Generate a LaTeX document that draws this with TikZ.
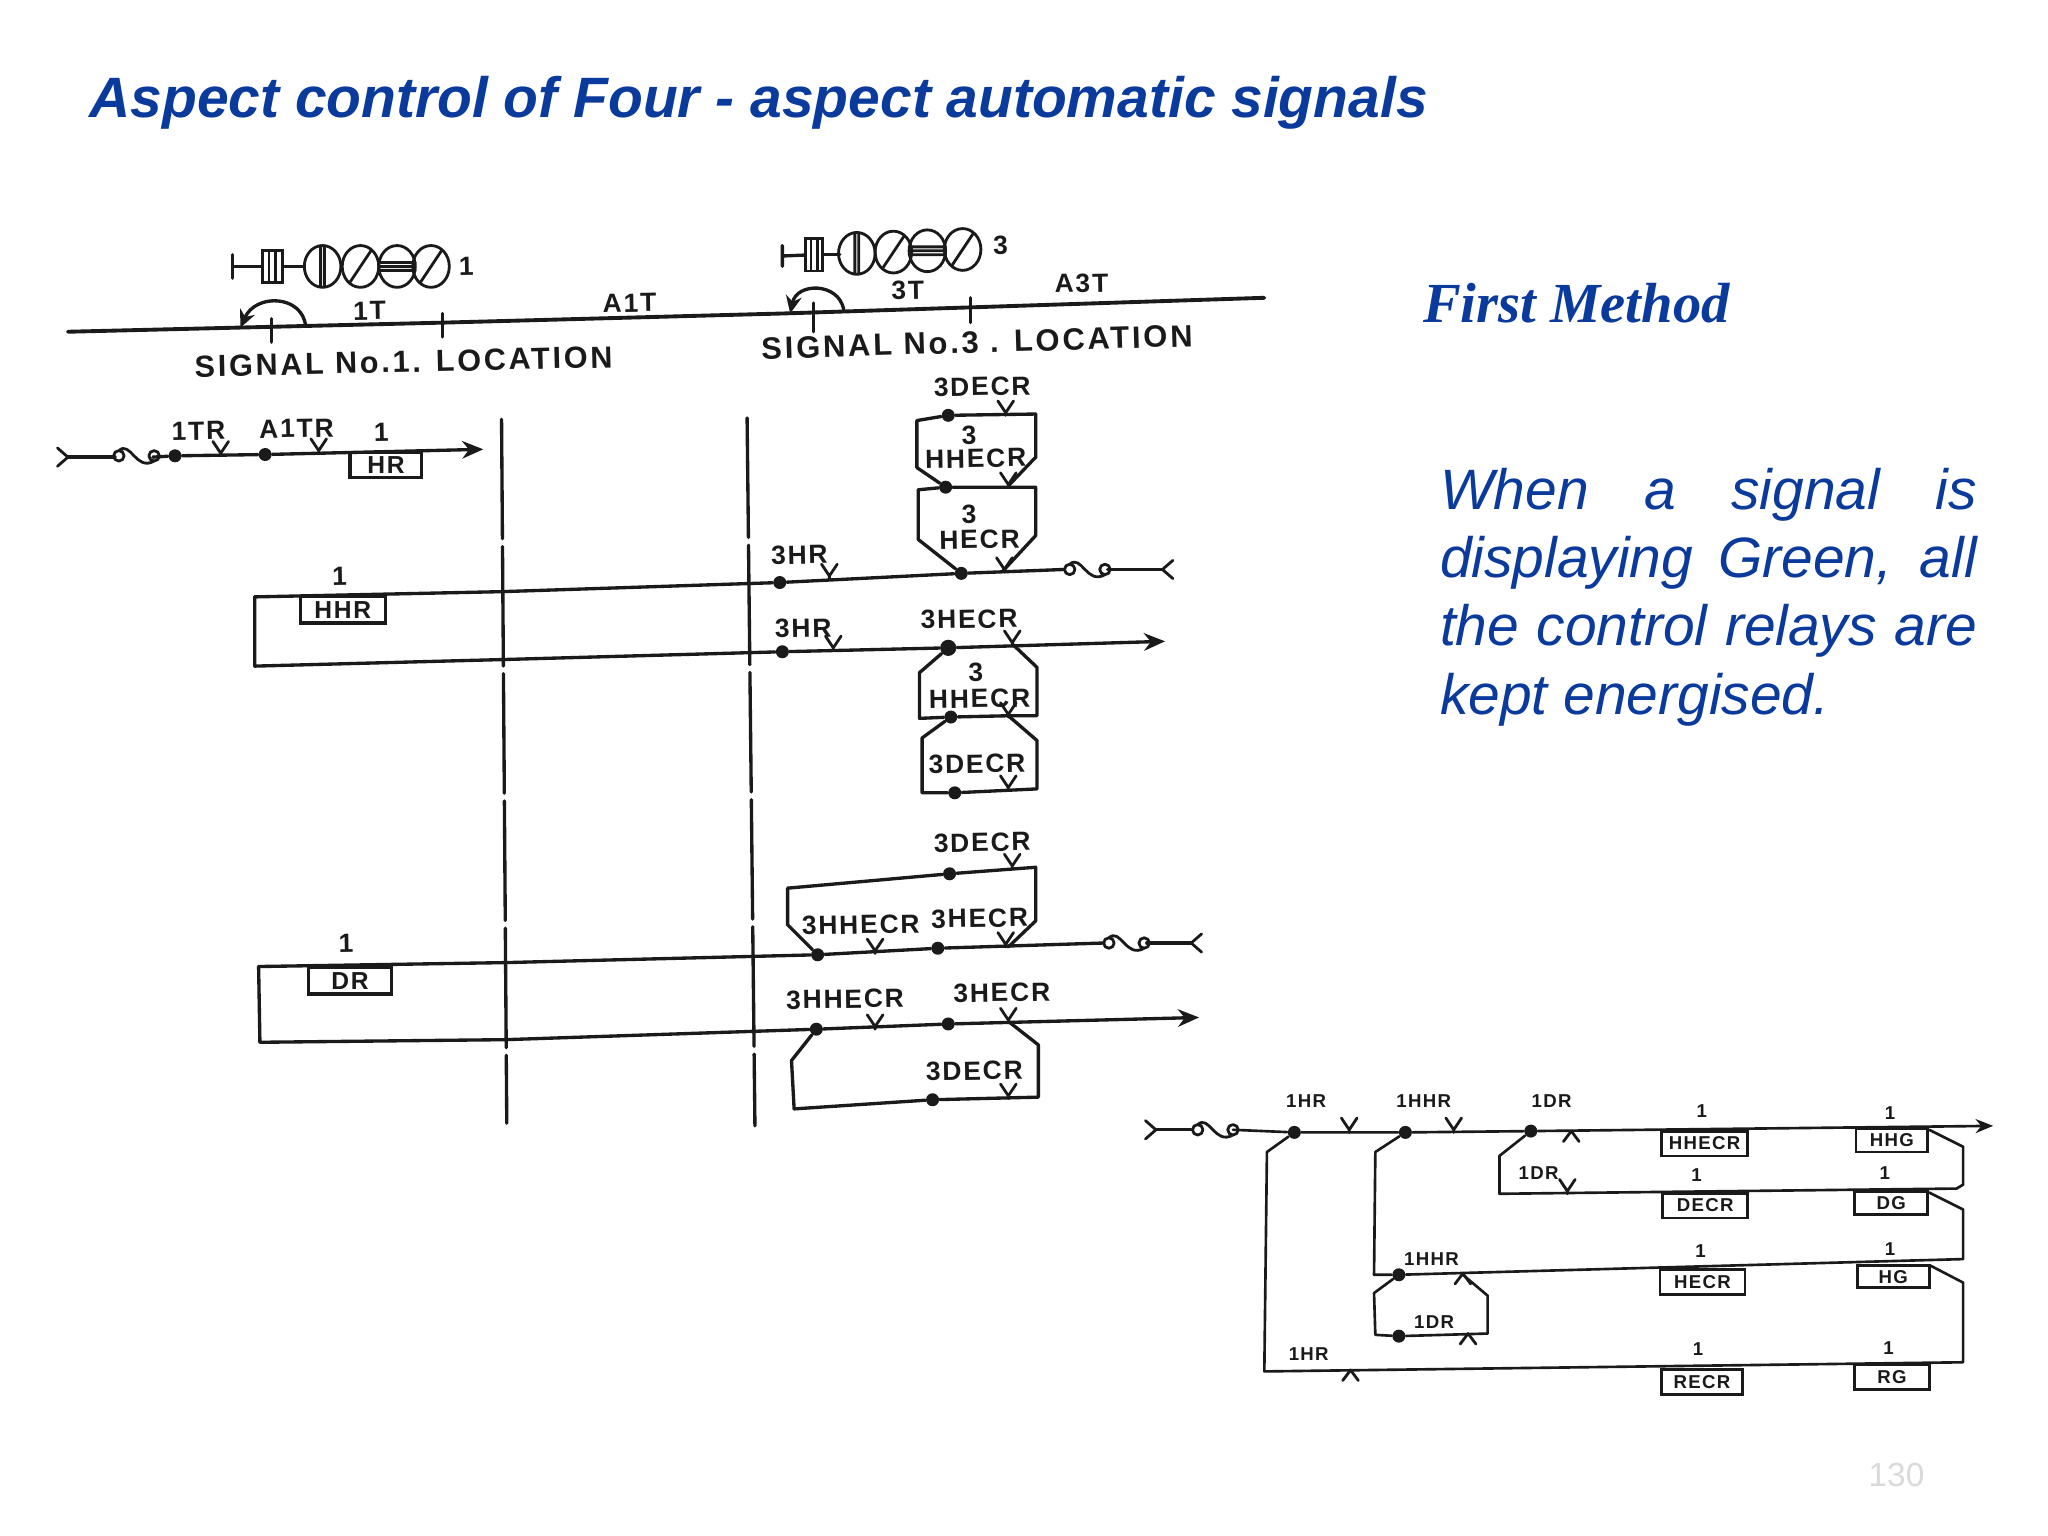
\documentclass[tikz,border=0pt]{standalone}
\usepackage{fontspec}
\usetikzlibrary{arrows.meta}
\setmainfont{Liberation Sans}
\newfontfamily\titlefont{Liberation Sans}
\newfontfamily\methodfont{Liberation Serif}
\newfontfamily\handfont[LetterSpace=7]{Liberation Sans}
\newfontfamily\handwide[LetterSpace=9]{Liberation Sans}
\definecolor{slideblue}{HTML}{0A3A9C}
\definecolor{ink}{HTML}{1A1A1A}
\definecolor{pagegrey}{HTML}{DADADA}
\def\uu{0.013061cm}
\tikzset{
  wire/.style={draw=ink,line width=0.95pt,line join=round,line cap=round},
  thinwire/.style={draw=ink,line width=0.75pt,line join=round,line cap=round},
  dot/.style={circle,fill=ink,inner sep=0pt,minimum size=4.6pt},
  smalldot/.style={circle,fill=ink,inner sep=0pt,minimum size=3.7pt},
  lab/.style={text=ink,inner sep=0pt,font=\handfont\bfseries\fontsize{7.5}{7.5}\selectfont,rotate=1},
  slab/.style={text=ink,inner sep=0pt,font=\handfont\bfseries\fontsize{5.3}{5.3}\selectfont},
  wlab/.style={text=ink,inner sep=0pt,font=\handwide\bfseries\fontsize{8.7}{8.7}\selectfont},
  relay/.style={draw=ink,line width=0.8pt,inner sep=0pt,text=ink,font=\handfont\bfseries\fontsize{5.3}{5.3}\selectfont},
  bigrelay/.style={relay,line width=0.9pt,font=\handfont\bfseries\fontsize{7}{7}\selectfont},
  arrowwire/.style={wire,-{Stealth[length=6pt,width=5pt]}},
  contactup/.pic={\draw[wire,line width=0.8pt] (-6,-10) -- (0,-1) -- (6,-10) (0,-1) -- (0,1);},
  contactdown/.pic={\draw[wire,line width=0.8pt] (-6,8) -- (0,0) -- (6,8);},
  fusepic/.pic={\draw[wire,line width=0.8pt] (0,0) circle (4) (27,0) circle (4)
     (0,-4) .. controls (9,-12) and (13,12) .. (27,4);},
  forkl/.pic={\draw[wire,line width=0.8pt] (-8,-7) -- (0,0) -- (-8,7);},
  forkr/.pic={\draw[wire,line width=0.8pt] (8,-7) -- (0,0) -- (8,7);},
  lampv/.pic={\draw[wire,line width=0.8pt] (0,0) ellipse (14 and 16) (-1.5,-16) -- (-1.5,16) (1.5,-16) -- (1.5,16);},
  lampd/.pic={\draw[wire,line width=0.8pt] (0,0) ellipse (14 and 16) (-8,12) -- (8,-12);},
  lamph/.pic={\draw[wire,line width=0.8pt] (0,0) ellipse (14 and 16) (-14,-3) -- (14,-3) (-14,0) -- (14,0) (-14,3) -- (14,3);},
}
\begin{document}
\begin{tikzpicture}[x=\uu,y=-\uu]
\useasboundingbox (0,0) rectangle (1568,1176);
\fill[white] (0,0) rectangle (1568,1176);

% ---- slide texts
\node[anchor=base west,inner sep=0pt,text=slideblue,font=\titlefont\bfseries\itshape\fontsize{16.2}{20}\selectfont] (title) at (68,90) {Aspect control of Four - aspect automatic signals};
\node[anchor=base west,inner sep=0pt,text=slideblue,font=\methodfont\bfseries\itshape\fontsize{16.1}{20}\selectfont] (method) at (1089,247) {First Method};
\node[anchor=north west,inner sep=0pt,text=slideblue,text width=411*\uu,align=justify,font=\itshape\fontsize{16.2}{19.4}\selectfont] (para) at (1102,358) {When a signal is \mbox{displaying} Green, all the control relays are kept energised.};
\node[text=pagegrey,inner sep=0pt,font=\fontsize{9.5}{10}\selectfont] (page) at (1452,1129) {130};

% ---- signal symbols
\coordinate (s1a) at (178,204); \coordinate (s1t) at (178,195); \coordinate (s1b) at (178,213);
\node[draw=ink,line width=0.8pt,minimum width=15*\uu,minimum height=25*\uu,inner sep=0pt] (s1box) at (208.5,204) {};
\draw[thinwire] (206,192) -- (206,216) (211,192) -- (211,216);
\draw[wire] (s1t) -- (s1b) (s1a) -- (s1box);
\coordinate (s1c) at (233,204);
\draw[wire] (s1box) -- (s1c);
\pic at (247,204) {lampv}; \pic at (276,204) {lampd}; \pic at (304,204) {lamph}; \pic at (330,204) {lampd};
\node[lab] (s1n) at (357,204) {1};

\coordinate (s3a) at (599,196); \coordinate (s3t) at (599,188); \coordinate (s3b) at (599,204);
\node[draw=ink,line width=0.8pt,minimum width=13*\uu,minimum height=25*\uu,inner sep=0pt] (s3box) at (623.5,195) {};
\draw[thinwire] (621,183) -- (621,207) (626,183) -- (626,207);
\draw[wire] (s3t) -- (s3b) (s3a) -- (s3box);
\coordinate (s3c) at (643,195);
\draw[wire] (s3box) -- (s3c);
\pic at (656,194) {lampv}; \pic at (684,193) {lampd}; \pic at (710,192) {lamph}; \pic at (737,191) {lampd};
\node[lab] (s3n) at (766,188) {3};

% ---- track
\coordinate (tr0) at (52,254); \coordinate (tr1) at (340,247); \coordinate (tr2) at (600,240); \coordinate (tr3) at (968,228);
\draw[wire,line width=1.1pt] (tr0) -- (tr1) -- (tr2) -- (tr3);
\draw[wire] (208,244) -- (208,262) (339,240) -- (339,258) (623,232) -- (623,254) (743,228) -- (743,247);
\draw[wire,-{Stealth[length=5pt,width=4.5pt]}] (234,250) .. controls (232,226) and (196,224) .. (184,251);
\draw[wire,-{Stealth[length=5pt,width=4.5pt]}] (646,237) .. controls (642,216) and (610,216) .. (605,240);
\node[lab] (l1t) at (283,238) {1T};
\node[lab] (la1t) at (482,232) {A1T};
\node[lab] (l3t) at (695,222) {3T};
\node[lab] (la3t) at (828,217) {A3T};
\node[wlab,rotate=1.3] (loc1) at (309,277) {SIGNAL No.1. LOCATION};
\node[wlab,rotate=1.7,font=\handwide\bfseries\fontsize{8.8}{8.8}\selectfont] (loc3) at (748,262) {SIGNAL No.3 . LOCATION};

% ---- location dashed lines
\coordinate (v1a) at (384,321); \coordinate (v1b) at (388,860);
\coordinate (v2a) at (572,320); \coordinate (v2b) at (578,862);
\draw[wire,dash pattern=on 34pt off 2.2pt] (v1a) -- (v1b);
\draw[wire,dash pattern=on 34pt off 2.2pt] (v2a) -- (v2b);

% ---- HR circuit
\coordinate (a0) at (52,350); \coordinate (a1) at (88,350); \coordinate (a2) at (117,350);
\pic at (a0) {forkl};
\pic at (91,349) {fusepic};
\node[smalldot] (a3) at (134,349) {};
\node[smalldot] (a4) at (203,348) {};
\coordinate (a5) at (370,344);
\draw[wire] (a0) -- (a1);
\draw[wire] (a2) -- (a3) -- (a4);
\draw[arrowwire] (a4) -- (a5);
\pic at (169,348) {contactup};
\pic at (244,346) {contactup};
\node[lab] (ltr) at (152,330) {1TR};
\node[lab] (latr) at (227,328) {A1TR};
\node[lab] (hr1) at (292,331) {1};
\node[bigrelay,minimum width=55*\uu,minimum height=19*\uu] (hr) at (295.5,356) {HR};

% ---- 3HECR/3HHECR/3DECR stack above HHR line
\node[lab] (d1) at (752,296) {3DECR};
\node[smalldot] (b1) at (726,318) {};
\coordinate (b2) at (793,317); \coordinate (b3) at (793,350); \coordinate (b0) at (702,322); \coordinate (b4) at (702,358);
\node[smalldot] (b5) at (724,373) {};
\coordinate (b6) at (772,372);
\draw[wire] (b4) -- (b0) -- (b1) -- (b2) -- (b3) -- (b6);
\draw[wire] (b4) -- (b5);
\pic at (770,317) {contactup};
\pic at (772,372) {contactup};
\node[lab] (d2a) at (742,333) {3};
\node[lab] (d2b) at (747,351) {HHECR};
\coordinate (b7) at (703,375); \coordinate (b8) at (793,373); \coordinate (b9) at (793,410); \coordinate (b10) at (703,413);
\node[smalldot] (b11) at (736,439) {};
\coordinate (b12) at (768,437);
\draw[wire] (b7) -- (b5) -- (b8) -- (b9) -- (b12);
\draw[wire] (b7) -- (b10) -- (b11);
\pic at (769,437) {contactup};
\node[lab] (d3a) at (742,394) {3};
\node[lab] (d3b) at (750,413) {HECR};

% ---- HHR line
\coordinate (c0) at (195,457); \coordinate (c1) at (384,453);
\node[smalldot] (c2) at (597,446) {};
\coordinate (c3) at (815,436); \coordinate (c4) at (848,436); \coordinate (c5) at (890,436);
\draw[wire] (c0) -- (c1) -- (c2) -- (b11) -- (c3);
\draw[wire] (c4) -- (c5);
\pic at (819,436) {fusepic};
\pic at (c5) {forkr};
\pic at (635,442) {contactup};
\node[lab] (e1) at (612,425) {3HR};
\node[lab] (hh1) at (260,441) {1};
\node[bigrelay,minimum width=65*\uu,minimum height=20*\uu] (hhr) at (262.5,467) {HHR};
\coordinate (c6) at (195,510); \coordinate (c7) at (384,505);
\node[smalldot] (c8) at (599,499) {};
\node[dot] (c9) at (726,496) {};
\coordinate (c10) at (892,491);
\draw[wire] (c0) -- (c6) -- (c7) -- (c8) -- (c9);
\draw[arrowwire] (c9) -- (c10);
\pic at (638,497) {contactup};
\pic at (775,493) {contactup};
\node[lab] (e2) at (615,481) {3HR};
\node[lab] (e3) at (742,474) {3HECR};

% ---- stack below
\coordinate (f1) at (704,515); \coordinate (f2) at (704,550);
\coordinate (f3) at (794,548); \coordinate (f4) at (794,511); \coordinate (f5) at (775,493);
\node[smalldot] (f6) at (728,549) {};
\coordinate (f7) at (772,548);
\draw[wire] (c9) -- (f1) -- (f2) -- (f6) -- (f7) -- (f3) -- (f4) -- (f5);
\pic at (772,548) {contactup};
\node[lab] (g1) at (747,515) {3};
\node[lab] (g2) at (750,535) {HHECR};
\coordinate (f8) at (706,565); \coordinate (f9) at (706,607); \coordinate (f10) at (794,604); \coordinate (f11) at (794,567);
\node[smalldot] (f12) at (731,607) {};
\draw[wire] (f6) -- (f8) -- (f9) -- (f12) -- (f10) -- (f11) -- (f7);
\pic at (772,604) {contactup};
\node[lab] (g3) at (748,585) {3DECR};

% ---- upper loop of DR line
\node[lab] (h1) at (752,645) {3DECR};
\coordinate (k1) at (603,680);
\node[smalldot] (k2) at (727,669) {};
\coordinate (k3) at (793,664); \coordinate (k4) at (793,705); \coordinate (k5) at (772,725); \coordinate (k6) at (603,708);
\node[smalldot] (k7) at (626,731) {};
\node[smalldot] (k8) at (718,726) {};
\draw[wire] (k7) -- (k6) -- (k1) -- (k2) -- (k3) -- (k4) -- (k5);
\pic at (775,664) {contactup};
\node[lab] (h2) at (659,708) {3HHECR};
\node[lab] (h3) at (750,703) {3HECR};
\pic at (670,729) {contactup};
\pic at (770,724) {contactup};

% ---- DR line
\coordinate (m0) at (198,740); \coordinate (m1) at (387,737); \coordinate (m2) at (845,722); \coordinate (m3) at (878,722); \coordinate (m4) at (912,722);
\draw[wire] (m0) -- (m1) -- (k7) -- (k8) -- (m2);
\draw[wire] (m3) -- (m4);
\pic at (849,722) {fusepic};
\pic at (m4) {forkr};
\node[lab] (dr1) at (265,722) {1};
\node[bigrelay,minimum width=64*\uu,minimum height=20*\uu] (dr) at (268,751) {DR};
\coordinate (m5) at (199,798); \coordinate (m6) at (387,796);
\node[smalldot] (m7) at (625,788) {};
\node[smalldot] (m8) at (726,784) {};
\coordinate (m9) at (918,779);
\draw[wire] (m0) -- (m5) -- (m6) -- (m7) -- (m8);
\draw[arrowwire] (m8) -- (m9);
\pic at (670,787) {contactup};
\pic at (772,782) {contactup};
\node[lab] (n1) at (647,765) {3HHECR};
\node[lab] (n2) at (767,760) {3HECR};
\coordinate (p1) at (606,812); \coordinate (p2) at (608,849);
\node[smalldot] (p3) at (714,842) {};
\coordinate (p4) at (795,840); \coordinate (p5) at (795,800); \coordinate (p6) at (772,782);
\draw[wire] (m7) -- (p1) -- (p2) -- (p3) -- (p4) -- (p5) -- (p6);
\pic at (772,840) {contactup};
\node[lab] (n3) at (746,820) {3DECR};

% ---- bottom right circuit
\coordinate (q0) at (885,865); \coordinate (q1) at (912,865); \coordinate (q2) at (944,865);
\pic at (q0) {forkl};
\pic at (917,865) {fusepic};
\node[smalldot] (q3) at (991,867) {};
\node[smalldot] (q4) at (1076,867) {};
\node[smalldot] (q5) at (1172,866) {};
\coordinate (q6) at (1526,862);
\draw[thinwire] (q0) -- (q1);
\draw[thinwire] (q2) -- (q3) -- (q4) -- (q5);
\draw[thinwire,-{Stealth[length=5pt,width=4pt]}] (q5) -- (q6);
\pic at (1033,866) {contactup};
\pic at (1113,866) {contactup};
\pic at (1203,866) {contactdown};
\node[slab] (r1) at (1000,843) {1HR};
\node[slab] (r2) at (1090,843) {1HHR};
\node[slab] (r3) at (1188,843) {1DR};
% branch 3 (1DR)
\coordinate (s1) at (1148,885); \coordinate (s2) at (1148,914); \coordinate (s3) at (1498,910); \coordinate (s4) at (1503,907); \coordinate (s5) at (1503,878); \coordinate (s6) at (1477,865);
\draw[thinwire] (q5) -- (s1) -- (s2) -- (s3) -- (s4) -- (s5) -- (s6);
\pic at (1200,913) {contactup};
\node[slab] (r4) at (1178,898) {1DR};
% branch 2 (1HHR)
\coordinate (t1) at (1053,882); \coordinate (t2) at (1052,976);
\node[smalldot] (t3) at (1071,976) {};
\coordinate (t4) at (1503,964); \coordinate (t5) at (1503,926); \coordinate (t6) at (1477,913);
\draw[thinwire] (q4) -- (t1) -- (t2) -- (t3) -- (t4) -- (t5) -- (t6);
\pic at (1120,975) {contactdown};
\node[slab] (r5) at (1096,964) {1HHR};
\coordinate (u1) at (1052,990); \coordinate (u2) at (1053,1022);
\node[smalldot] (u3) at (1071,1023) {};
\coordinate (u4) at (1139,1021); \coordinate (u5) at (1139,992); \coordinate (u6) at (1120,976);
\draw[thinwire] (t3) -- (u1) -- (u2) -- (u3) -- (u4) -- (u5) -- (u6);
\pic at (1124,1021) {contactdown};
\node[slab] (r6) at (1098,1012) {1DR};
% branch 1 (1HR)
\coordinate (v1) at (970,882); \coordinate (v2) at (968,1050); \coordinate (v3) at (1503,1043); \coordinate (v4) at (1503,982); \coordinate (v5) at (1478,969);
\draw[thinwire] (q3) -- (v1) -- (v2) -- (v3) -- (v4) -- (v5);
\pic at (1034,1049) {contactdown};
\node[slab] (r7) at (1002,1037) {1HR};
% relays
\node[relay,minimum width=66*\uu,minimum height=19*\uu] (ry1) at (1305,875.5) {HHECR};
\node[relay,minimum width=65*\uu,minimum height=19*\uu] (ry2) at (1305.5,923) {DECR};
\node[relay,minimum width=65*\uu,minimum height=19*\uu] (ry3) at (1303.5,981.5) {HECR};
\node[relay,minimum width=62*\uu,minimum height=19*\uu] (ry4) at (1303,1058) {RECR};
\node[relay,minimum width=55*\uu,minimum height=18*\uu] (ry5) at (1448.5,873) {HHG};
\node[relay,minimum width=56*\uu,minimum height=18*\uu] (ry6) at (1448,921) {DG};
\node[relay,minimum width=55*\uu,minimum height=17*\uu] (ry7) at (1449.5,977.5) {HG};
\node[relay,minimum width=57*\uu,minimum height=19*\uu] (ry8) at (1448.5,1054.5) {RG};
\node[slab] (o1) at (1303,851) {1};
\node[slab] (o2) at (1299,900) {1};
\node[slab] (o3) at (1302,958) {1};
\node[slab] (o4) at (1300,1033) {1};
\node[slab] (o5) at (1447,852) {1};
\node[slab] (o6) at (1443,898) {1};
\node[slab] (o7) at (1447,956) {1};
\node[slab] (o8) at (1446,1032) {1};
\end{tikzpicture}
\end{document}
